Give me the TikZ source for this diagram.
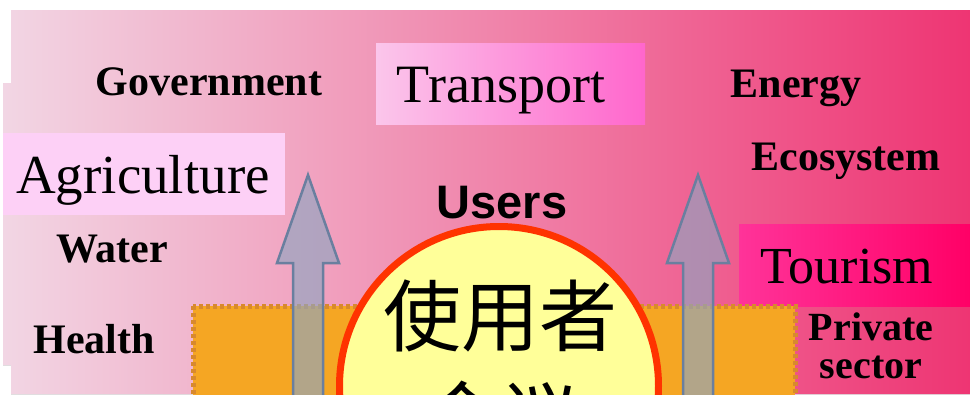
\documentclass[tikz,border=0pt]{standalone}
\usepackage{fontspec}
\setmainfont{Liberation Serif}
\setsansfont{Liberation Sans}
\newfontfamily\cjkfont{Noto Sans CJK SC}
\usepackage{tikz}
\usetikzlibrary{positioning, shapes}
\definecolor{bgleft}{HTML}{F2D6E4}
\definecolor{bgmid}{HTML}{F1A6C5}
\definecolor{bgright}{HTML}{EE3573}
\definecolor{agripink}{HTML}{FDD0F6}
\definecolor{transleft}{HTML}{FBC6EB}
\definecolor{transright}{HTML}{FF66CC}
\definecolor{tourleft}{HTML}{FF3399}
\definecolor{tourright}{HTML}{FF0066}
\definecolor{myorange}{HTML}{F5A623}
\definecolor{mydash}{HTML}{D8892E}
\definecolor{myyellow}{HTML}{FFFF99}
\definecolor{myred}{HTML}{FF3300}
\definecolor{arrowfill}{HTML}{8FA5C0}
\definecolor{arrowline}{HTML}{6A7F9F}

\begin{document}
\begin{tikzpicture}[x=1pt,y=-1pt,
	word/.style={anchor=base, inner sep=0pt, font=\fontsize{42}{44}\selectfont\bfseries},
	bigword/.style={anchor=base, inner sep=0pt, font=\fontsize{54}{56}\selectfont},
	tagbox/.style={rectangle, inner sep=0pt, draw=none},
	blockarrow/.style={fill=arrowfill, fill opacity=0.65, draw=arrowline, line width=2.5pt, line join=miter}]
	\useasboundingbox (0,0) rectangle (970,394);
	\clip (0,0) rectangle (970,394);
	\fill[white] (0,0) rectangle (970,394);
	\fill[left color=bgleft, middle color=bgmid, right color=bgright]
		(11,10) -- (970,10) -- (970,394) -- (11,394) -- (11,365) -- (3,365) -- (3,83) -- (11,83) -- cycle;
	
	\node[tagbox, fill=agripink, minimum width=282pt, minimum height=82pt] (agribox) at (144,174) {};
	\node[tagbox, left color=transleft, right color=transright, minimum width=269pt, minimum height=81pt] (transbox) at (510.5,83.5) {};
	\node[tagbox, left color=tourleft, right color=tourright, minimum width=232pt, minimum height=82pt] (tourbox) at (855,265) {};
	
	% users block
	\draw[mydash, fill=myorange, line width=5pt, dash pattern=on 4pt off 3pt] (193,306) rectangle (795,430);
	\foreach \ax in {308,698}
		\draw[blockarrow] ({\ax-15},430) -- ({\ax-15},263) -- ({\ax-31},263) -- (\ax,175)
			-- ({\ax+31},263) -- ({\ax+15},263) -- ({\ax+15},430) -- cycle;
	\node[circle, draw=myred, fill=myyellow, line width=7pt, minimum size=319pt, inner sep=0pt] (circ) at (499,386) {};
	\node[anchor=base, align=center, inner sep=0pt, font=\fontsize{78}{101}\selectfont\cjkfont] (cjk) at (500,446) {使用者\\会议};
	\node[word, font=\fontsize{47}{50}\selectfont\sffamily\bfseries] (users) at (502,218) {Users};
	
	\node[word] (gov) at (209,95) {Government};
	\node[bigword] (trans) at (501,102) {Transport};
	\node[word] (energy) at (796,97) {Energy};
	\node[word] (eco) at (846,170) {Ecosystem};
	\node[bigword, font=\fontsize{55}{57}\selectfont] (agri) at (143,193) {Agriculture};
	\node[word] (water) at (112,262) {Water};
	\node[word] (health) at (94,353) {Health};
	\node[bigword, font=\fontsize{52}{54}\selectfont] (tour) at (847,283) {Tourism};
	\node[word, align=center, font=\fontsize{40}{38}\selectfont\bfseries] (priv) at (871,378) {Private\\sector};
\end{tikzpicture}
\end{document}
